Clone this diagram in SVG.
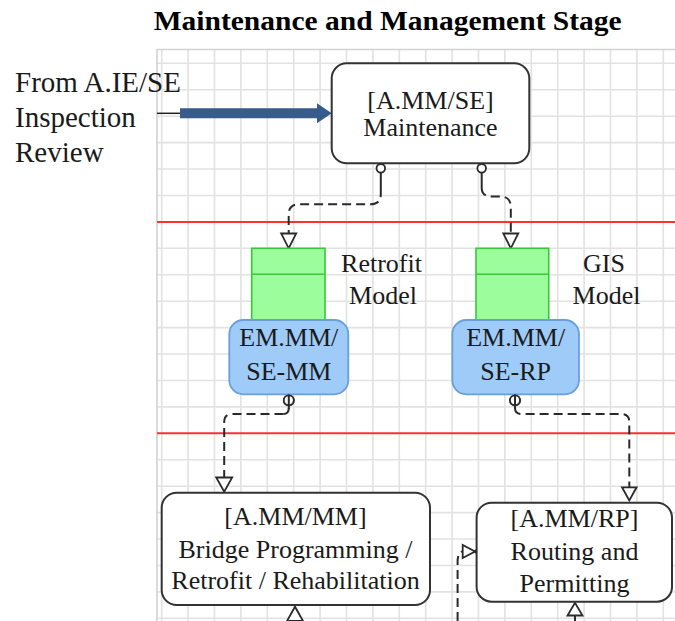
<svg xmlns="http://www.w3.org/2000/svg" width="675" height="621" viewBox="0 0 675 621">
  <style>
    .txt { font-family: "Liberation Serif", "Times New Roman", serif; fill: #1a1a1a; }
    .lbl { font-size: 26px; text-anchor: middle; }
    .side { font-size: 29px; }
    .title { font-size: 26.5px; font-weight: bold; fill: #000; }
    .grid { stroke: #e2e2e2; stroke-width: 1.6; fill: none; }
    .frame { stroke: #d2d2d2; stroke-width: 1.6; fill: none; }
    .lane { stroke: #ff3030; stroke-width: 2; }
    .act { fill: #fff; stroke: #333; stroke-width: 2; }
    .model { fill: #9cfd9c; stroke: #38c838; stroke-width: 1.6; }
    .ex { fill: #9ecbf8; stroke: #6a9fdb; stroke-width: 1.8; }
    .dash { fill: none; stroke: #2a2a2a; stroke-width: 2; stroke-dasharray: 9 5; }
    .solid { fill: none; stroke: #2a2a2a; stroke-width: 2; }
    .head { fill: #fff; stroke: #2a2a2a; stroke-width: 1.8; stroke-linejoin: miter; }
    .port { fill: #fff; stroke: #2a2a2a; stroke-width: 1.8; }
  </style>

  <rect width="675" height="621" fill="#fff"/>

  <!-- background grid -->
  <g id="grid">
    <path class="grid" d="M161.7 49.5V621M188.1 49.5V621M214.5 49.5V621M240.9 49.5V621M267.3 49.5V621M293.7 49.5V621M320.1 49.5V621M346.5 49.5V621M372.9 49.5V621M399.3 49.5V621M425.7 49.5V621M452.1 49.5V621M478.5 49.5V621M504.9 49.5V621M531.3 49.5V621M557.7 49.5V621M584.1 49.5V621M610.5 49.5V621M636.9 49.5V621M663.3 49.5V621"/>
    <path class="grid" d="M157 63.3H675M157 89.7H675M157 116.2H675M157 142.6H675M157 169H675M157 195.5H675M157 248.3H675M157 274.7H675M157 301.2H675M157 327.6H675M157 354H675M157 380.5H675M157 406.9H675M157 459.8H675M157 486.2H675M157 512.6H675M157 539H675M157 565.5H675M157 591.9H675M157 618.3H675"/>
    <path class="frame" d="M157 621V49.5H675"/>
  </g>

  <!-- stage separators -->
  <g id="lanes">
    <line class="lane" x1="157" y1="221.9" x2="675" y2="221.9"/>
    <line class="lane" x1="157" y1="433.3" x2="675" y2="433.3"/>
  </g>

  <text id="title" class="txt title" x="153.7" y="29.5" textLength="468" lengthAdjust="spacingAndGlyphs">Maintenance and Management Stage</text>

  <g id="source-label">
    <text class="txt side" x="15" y="91.7">From A.IE/SE</text>
    <text class="txt side" x="15" y="126.7">Inspection</text>
    <text class="txt side" x="15" y="161.7">Review</text>
  </g>

  <!-- connectors -->
  <g id="connectors">
    <!-- incoming process arrow -->
    <line x1="157" y1="113.3" x2="181" y2="113.3" stroke="#222" stroke-width="1.5"/>
    <polygon points="180,108.3 317,108.3 317,103.3 331.7,113.3 317,123.3 317,118.3 180,118.3" fill="#375b8b"/>

    <!-- Maintenance to Retrofit model -->
    <line class="solid" x1="380.8" y1="172.6" x2="380.8" y2="188"/>
    <path class="dash" d="M380.8 188V194Q380.8 204.3 370.5 204.3H299Q288.7 204.3 288.7 214.6V233.5"/>
    <circle class="port" cx="380.8" cy="168.3" r="4.3"/>
    <polygon class="head" points="281.2,233.5 296.2,233.5 288.7,248.3"/>

    <!-- Maintenance to GIS model -->
    <line class="solid" x1="481.7" y1="172.6" x2="481.7" y2="188"/>
    <path class="dash" d="M481.7 188Q481.7 196.5 492 196.5H500Q510.8 196.5 510.8 207V233.5"/>
    <circle class="port" cx="481.7" cy="168.3" r="4.3"/>
    <polygon class="head" points="503.3,233.5 518.3,233.5 510.8,248.3"/>

    <!-- Retrofit exchange to Bridge Programming -->
    <line class="solid" x1="288.8" y1="394.3" x2="288.8" y2="409"/>
    <path class="dash" d="M283.5 414H232Q224.2 414 224.2 422V477.5"/>
    <path class="solid" d="M288.8 408Q288.8 414 283.5 414"/>
    <circle class="port" cx="288.8" cy="400.3" r="5" fill-opacity="0"/>
    <polygon class="head" points="216.2,477.5 232.2,477.5 224.2,491.7"/>

    <!-- GIS exchange to Routing -->
    <line class="solid" x1="515" y1="394.3" x2="515" y2="409"/>
    <path class="dash" d="M515 408Q515 414 521.5 414H621Q629.3 414 629.3 422V487.3"/>
    <circle class="port" cx="515" cy="400.3" r="5" fill-opacity="0"/>
    <polygon class="head" points="622,487.3 636.6,487.3 629.3,500.5"/>

    <!-- feed into Routing from below -->
    <path class="dash" d="M457.6 621V562Q457.6 551.5 463 551.5"/>
    <polygon class="head" points="462.7,545 462.7,558 475,551.5"/>
    <circle cx="476.6" cy="551.5" r="2.2" fill="#111"/>

    <!-- outgoing from the activity boxes -->
    <polygon class="head" points="295,606.7 287,621 303,621"/>
    <polygon class="head" points="575,602.7 567.5,615.5 582.5,615.5"/>
    <line class="solid" x1="575" y1="615.5" x2="575" y2="621"/>
  </g>

  <g id="a-mm-se">
    <rect class="act" x="331.7" y="63.3" width="197.6" height="100" rx="15"/>
    <text class="txt lbl" x="430.5" y="108.5">[A.MM/SE]</text>
    <text class="txt lbl" x="430.5" y="135.5">Maintenance</text>
  </g>

  <g id="retrofit-model">
    <rect class="model" x="251.7" y="248.3" width="73.3" height="72.7"/>
    <line class="model" x1="251.7" y1="274.3" x2="325" y2="274.3"/>
    <text class="txt lbl" x="381.5" y="272.3">Retrofit</text>
    <text class="txt lbl" x="383" y="304">Model</text>
  </g>

  <g id="gis-model">
    <rect class="model" x="476" y="248.3" width="72.7" height="72.7"/>
    <line class="model" x1="476" y1="274.3" x2="548.7" y2="274.3"/>
    <text class="txt lbl" x="604" y="272.3">GIS</text>
    <text class="txt lbl" x="606.5" y="304">Model</text>
  </g>

  <g id="em-mm-se-mm">
    <rect class="ex" x="229.3" y="320" width="119" height="74.3" rx="14"/>
    <text class="txt lbl" x="288.8" y="346">EM.MM/</text>
    <text class="txt lbl" x="288.8" y="380">SE-MM</text>
  </g>

  <g id="em-mm-se-rp">
    <rect class="ex" x="452.3" y="320" width="126.7" height="74.3" rx="14"/>
    <text class="txt lbl" x="515.7" y="346">EM.MM/</text>
    <text class="txt lbl" x="515.7" y="380">SE-RP</text>
  </g>

  <g id="a-mm-mm">
    <rect class="act" x="161.7" y="492.7" width="268.3" height="112.3" rx="15"/>
    <text class="txt lbl" x="295.5" y="525">[A.MM/MM]</text>
    <text class="txt lbl" x="295.5" y="558">Bridge Programming /</text>
    <text class="txt lbl" x="295.5" y="589">Retrofit / Rehabilitation</text>
  </g>

  <g id="a-mm-rp">
    <rect class="act" x="476.6" y="502.7" width="195.4" height="99" rx="15"/>
    <text class="txt lbl" x="574.5" y="527">[A.MM/RP]</text>
    <text class="txt lbl" x="574.5" y="560">Routing and</text>
    <text class="txt lbl" x="574.5" y="591.5">Permitting</text>
  </g>

  <!-- ports on the exchange boxes sit over their edge -->
  <g id="ports">
    <circle class="port" cx="288.8" cy="400.3" r="5" fill="none"/>
    <line class="solid" x1="288.8" y1="394.5" x2="288.8" y2="406" stroke-width="1.6"/>
    <circle class="port" cx="515" cy="400.3" r="5" fill="none"/>
    <line class="solid" x1="515" y1="394.5" x2="515" y2="406" stroke-width="1.6"/>
  </g>
</svg>
